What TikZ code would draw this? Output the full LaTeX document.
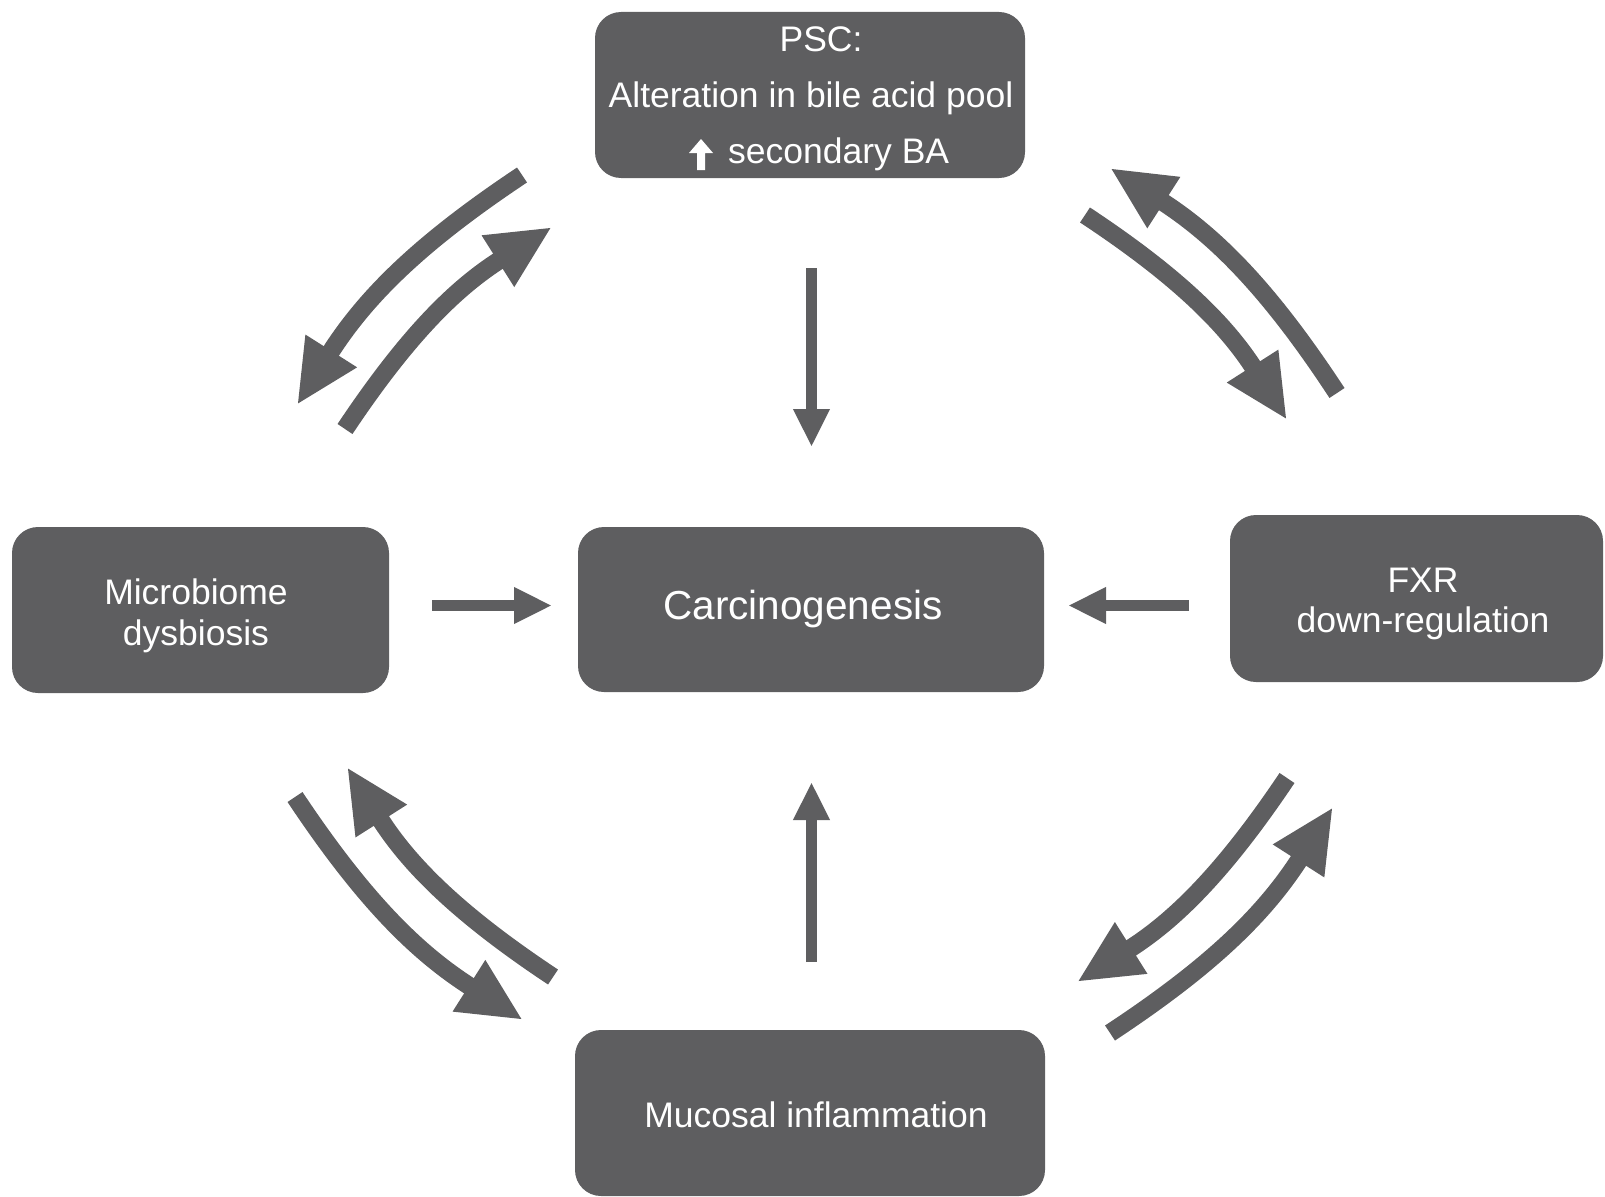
\documentclass[tikz,border=0pt]{standalone}
\usepackage{fontspec}
\setmainfont{Liberation Sans}
\usetikzlibrary{arrows.meta}
\definecolor{boxgray}{HTML}{5E5E60}
\begin{document}
\begin{tikzpicture}[x=1pt,y=-1pt,
  box/.style={fill=boxgray, draw=none, rounded corners=26pt, inner sep=0pt, rectangle},
  lbl/.style={text=white, anchor=base, inner sep=0pt, font=\fontsize{35.5}{42}\selectfont},
  biglbl/.style={text=white, anchor=base, inner sep=0pt, font=\fontsize{40.5}{48}\selectfont},
  straightarrow/.style={draw=boxgray, line width=11.5pt, -{Triangle[length=38pt,width=34pt]}},
  curvedarrow/.style={draw=boxgray, line width=18pt, -{Triangle[length=64pt,width=56pt]}}
]
\useasboundingbox (0,0) rectangle (1605,1196);

% boxes
\node[box, minimum width=430pt, minimum height=166pt] (psc) at (810,95) {};
\node[box, minimum width=466pt, minimum height=165pt] (carc) at (811,609.5) {};
\node[box, minimum width=377pt, minimum height=166pt] (micro) at (200.5,610) {};
\node[box, minimum width=373pt, minimum height=167pt] (fxr) at (1416.5,598.5) {};
\node[box, minimum width=470pt, minimum height=166pt] (muc) at (810,1113) {};

% texts
\node[lbl] (psc1) at (821,52) {PSC:};
\node[lbl] (psc2) at (811,108) {Alteration in bile acid pool};
\node[lbl, anchor=base west] (psc3) at (728,163) {secondary BA};
\fill[white] (701,139) -- (713,153) -- (705,153) -- (705,170) -- (697,170) -- (697,153) -- (689,153) -- cycle;
\node[biglbl] (carct) at (803,619) {Carcinogenesis};
\node[lbl] (micro1) at (196,604) {Microbiome};
\node[lbl] (micro2) at (196,645) {dysbiosis};
\node[lbl] (fxr1) at (1423,592) {FXR};
\node[lbl] (fxr2) at (1423,632) {down-regulation};
\node[lbl] (muct) at (816,1127) {Mucosal inflammation};

% straight arrow ends
\coordinate (d1) at (811.5,268);  \coordinate (d2) at (811.5,447);
\coordinate (u1) at (811.5,962);  \coordinate (u2) at (811.5,782);
\coordinate (r1) at (432,605.5);  \coordinate (r2) at (552,605.5);
\coordinate (l1) at (1189,605.5); \coordinate (l2) at (1068,605.5);

\draw[straightarrow] (d1) -- (d2);
\draw[straightarrow] (u1) -- (u2);
\draw[straightarrow] (r1) -- (r2);
\draw[straightarrow] (l1) -- (l2);

% curved arrow ends
\coordinate (a1) at (522,175);   \coordinate (a2) at (297,405);
\coordinate (b1) at (345,429);   \coordinate (b2) at (552,227);
\coordinate (c1) at (1085,215);  \coordinate (c2) at (1287,420);
\coordinate (e1) at (1337,393);  \coordinate (e2) at (1110,168);
\coordinate (f1) at (295,797);   \coordinate (f2) at (523,1020);
\coordinate (g1) at (553,977);   \coordinate (g2) at (347,767);
\coordinate (h1) at (1287,778);  \coordinate (h2) at (1077,982);
\coordinate (k1) at (1110,1033); \coordinate (k2) at (1333,807);

\draw[curvedarrow] (a1) to[bend right=12] (a2);
\draw[curvedarrow] (b1) to[bend left=12] (b2);
\draw[curvedarrow] (c1) to[bend left=12] (c2);
\draw[curvedarrow] (e1) to[bend right=12] (e2);
\draw[curvedarrow] (f1) to[bend right=12] (f2);
\draw[curvedarrow] (g1) to[bend left=12] (g2);
\draw[curvedarrow] (h1) to[bend left=12] (h2);
\draw[curvedarrow] (k1) to[bend right=12] (k2);
\end{tikzpicture}
\end{document}
